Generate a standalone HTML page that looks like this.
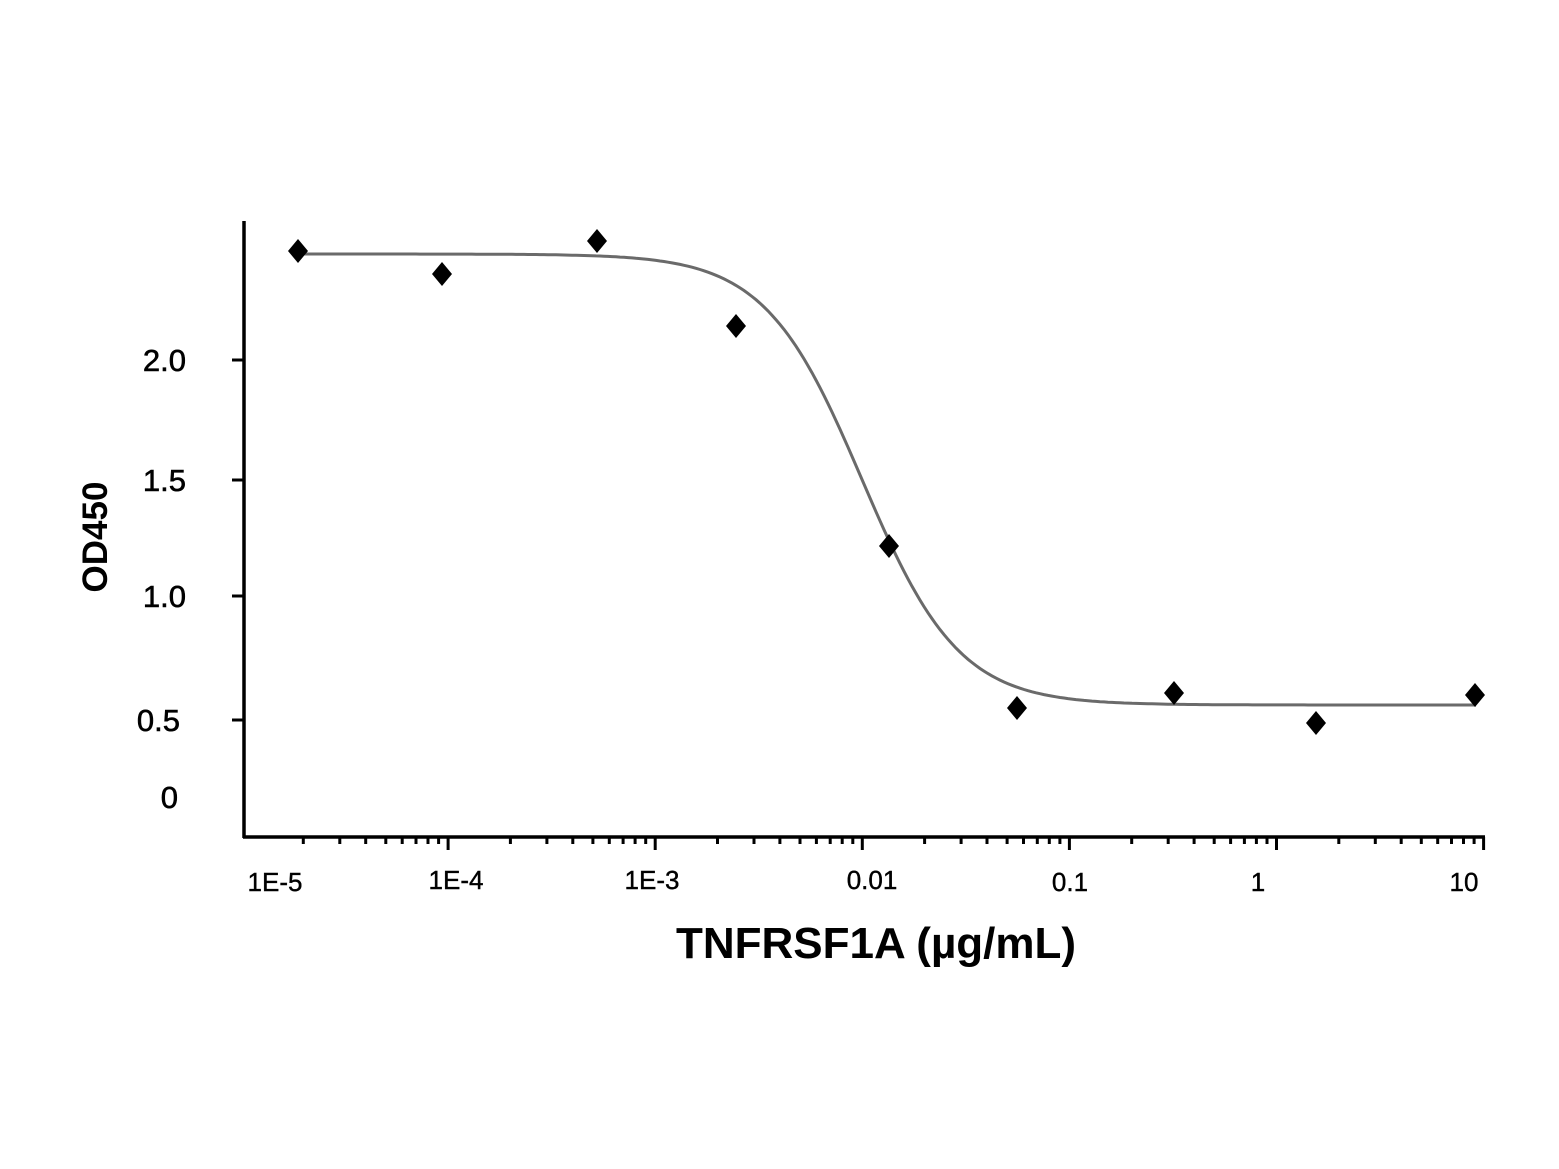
<!DOCTYPE html>
<html><head><meta charset="utf-8"><style>
html,body{margin:0;padding:0;background:#fff;}
svg{display:block;}
text{font-family:"Liberation Sans",Arial,sans-serif;fill:#000;}
</style></head><body>
<svg id="s" width="1559" height="1169" viewBox="0 0 1559 1169" xmlns="http://www.w3.org/2000/svg">
<rect width="1559" height="1169" fill="#fff"/>
<g id="ticks" stroke="#000" stroke-width="3"></g>
<line x1="244" y1="221" x2="244" y2="838" stroke="#000" stroke-width="3.5"/>
<line x1="243" y1="837" x2="1485" y2="837" stroke="#000" stroke-width="3.5"/>
<g stroke="#000" stroke-width="3">
<line x1="232" y1="360" x2="244" y2="360"/>
<line x1="232" y1="480" x2="244" y2="480"/>
<line x1="232" y1="596" x2="244" y2="596"/>
<line x1="232" y1="720" x2="244" y2="720"/>
</g>
<g font-size="31" text-anchor="end" stroke="#000" stroke-width="0.6">
<text x="186" y="371">2.0</text>
<text x="186" y="491">1.5</text>
<text x="186" y="607">1.0</text>
<text x="180" y="731">0.5</text>
<text x="178" y="808">0</text>
</g>
<text transform="translate(107,537) rotate(-90)" font-size="35" font-weight="bold" text-anchor="middle">OD450</text>
<g font-size="26" text-anchor="middle" stroke="#000" stroke-width="0.4">
<text x="275" y="891">1E-5</text>
<text x="456" y="889">1E-4</text>
<text x="652" y="889">1E-3</text>
<text x="872" y="889">0.01</text>
<text x="1070" y="891">0.1</text>
<text x="1258" y="891">1</text>
<text x="1464" y="891">10</text>
</g>
<text x="876" y="958" font-size="44" font-weight="bold" text-anchor="middle">TNFRSF1A (µg/mL)</text>
<path id="curve" fill="none" stroke="#6a6a6a" stroke-width="3"/>
<g id="pts" fill="#000"></g>
</svg>
<script>
var t=document.getElementById('ticks'),s='';
var x0=241,d=207.1;
for(var k=0;k<6;k++){for(var m=2;m<=10;m++){var x=x0+k*d+Math.log10(m)*d;var L=(m==10)?13:7;s+='<line x1="'+x.toFixed(1)+'" y1="837" x2="'+x.toFixed(1)+'" y2="'+(837+L)+'"/>';}}
t.innerHTML=s;
var p='';
for(var x=300;x<=1476;x+=4){var tt=(x-862)/207;var f=1/(1+Math.pow(10,-1.85*tt));var y=254+(705-254)*f;p+=(x==300?'M':'L')+x+','+y.toFixed(1);}
document.getElementById('curve').setAttribute('d',p);
var pts=[[298,251],[442,274],[597,241],[736,326],[889,546],[1017,708],[1174,693],[1316,723],[1475,695]],q='';
pts.forEach(function(a){var x=a[0],y=a[1];q+='<polygon points="'+x+','+(y-12)+' '+(x+10)+','+y+' '+x+','+(y+12)+' '+(x-10)+','+y+'"/>';});
document.getElementById('pts').innerHTML=q;
</script>
</body></html>
